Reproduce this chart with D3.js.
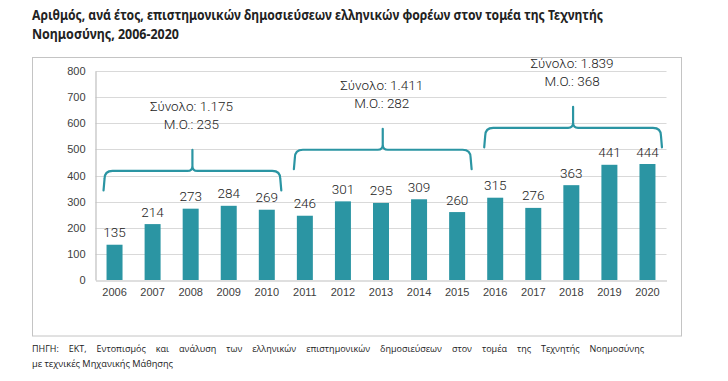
<!DOCTYPE html>
<html>
<head>
<meta charset="utf-8">
<script src="https://cdn.jsdelivr.net/npm/d3@7"></script>
<style>
  body { margin: 0; background: #fff; }
  svg { display: block; }
  .chartfont { font-family: "Roboto", sans-serif; }
</style>
</head>
<body>
<div id="chart"></div>
<script>
// datos
const years = ["2006","2007","2008","2009","2010","2011","2012","2013","2014","2015","2016","2017","2018","2019","2020"];
const values = [135, 214, 273, 284, 269, 246, 301, 295, 309, 260, 315, 276, 363, 441, 444];
const yTicks = [0, 100, 200, 300, 400, 500, 600, 700, 800];

// grupos de 5 años (llaves)
const groupFirst = ["2006", "2011", "2016"];
const groupLast = ["2010", "2015", "2020"];
const groupTotals = ["Σύνολο: 1.175", "Σύνολο: 1.411", "Σύνολο: 1.839"];
const groupMeans = ["Μ.Ο.: 235", "Μ.Ο.: 282", "Μ.Ο.: 368"];
const braceBase = [343, 424, 508]; // nivel de las puntas, en unidades del eje

const titleLines = [
    "Αριθμός, ανά έτος, επιστημονικών δημοσιεύσεων ελληνικών φορέων στον τομέα της Τεχνητής",
    "Νοημοσύνης, 2006-2020"
];
const sourceLines = [
    "ΠΗΓΗ: ΕΚΤ, Εντοπισμός και ανάλυση των ελληνικών επιστημονικών δημοσιεύσεων στον τομέα της Τεχνητής Νοημοσύνης",
    "με τεχνικές Μηχανικής Μάθησης"
];

const width = 728, height = 381;
const teal = "#2b95a3";

let svg = d3.select("#chart").append("svg")
    .attr("width", width)
    .attr("height", height);

// titulo
let title = svg.append("g")
    .style("font-family", "'Noto Sans', sans-serif")
    .style("font-weight", "bold")
    .style("font-size", "13.5px")
    .attr("fill", "#222");
title.append("text").attr("x", 32).attr("y", 20)
    .attr("textLength", 571).attr("lengthAdjust", "spacingAndGlyphs")
    .text(titleLines[0]);
title.append("text").attr("x", 32).attr("y", 38.5)
    .attr("textLength", 147).attr("lengthAdjust", "spacingAndGlyphs")
    .text(titleLines[1]);

// marco
svg.append("rect")
    .attr("x", 32.5).attr("y", 57.5)
    .attr("width", 649).attr("height", 278.5)
    .attr("fill", "none")
    .attr("stroke", "#c4c4c4");

// escalas
let x = d3.scaleBand()
    .domain(years)
    .range([95.5, 666.5])
    .paddingInner(0.58)
    .paddingOuter(0.29);

let y = d3.scaleLinear()
    .domain([0, 800])
    .range([280, 71]);

let chart = svg.append("g").attr("class", "chartfont");

// rejilla
chart.append("g")
    .selectAll("line")
    .data(yTicks.filter(d => d > 0))
    .join("line")
    .attr("x1", 95.5).attr("x2", 666.5)
    .attr("y1", d => Math.round(y(d)) + 0.5)
    .attr("y2", d => Math.round(y(d)) + 0.5)
    .attr("stroke", "#d9d9d9")
    .attr("stroke-width", 1.2);

// eje y
let yAxis = chart.append("g")
    .attr("transform", "translate(95.5,0)")
    .call(d3.axisLeft(y).tickValues(yTicks).tickSize(0).tickPadding(10).tickFormat(d3.format("d")));
yAxis.select(".domain").attr("stroke", "#bfbfbf").attr("stroke-width", 1.2);
yAxis.selectAll("text")
    .style("font-family", "inherit")
    .style("font-size", "11px")
    .attr("fill", "#404040");

// barras
chart.append("g")
    .selectAll("rect")
    .data(values)
    .join("rect")
    .attr("x", (d, i) => x(years[i]))
    .attr("y", d => y(d))
    .attr("width", x.bandwidth())
    .attr("height", d => y(0) - y(d))
    .attr("fill", teal);

// eje x
let xAxis = chart.append("g")
    .attr("transform", "translate(0,280.5)")
    .call(d3.axisBottom(x).tickSize(0).tickPadding(8));
xAxis.select(".domain").attr("stroke", "#bfbfbf").attr("stroke-width", 1.2);
xAxis.selectAll("text")
    .style("font-family", "inherit")
    .style("font-size", "11px")
    .attr("fill", "#404040");

// etiquetas de valor
chart.append("g")
    .selectAll("text")
    .data(values)
    .join("text")
    .attr("x", (d, i) => x(years[i]) + x.bandwidth() / 2)
    .attr("y", d => y(d) - 7.5)
    .attr("text-anchor", "middle")
    .style("font-size", "13.5px")
    .style("font-weight", 300)
    .attr("fill", "#222")
    .text(d => d);

// llaves
let braces = chart.append("g");
groupFirst.forEach(function (first, i) {
    let x0 = x(first) - 3;
    let x1 = x(groupLast[i]) + x.bandwidth() + 6.5;
    let xm = (x0 + x1) / 2;
    let yTip = y(braceBase[i]);
    let yH = yTip - 19.5;
    let yPeak = yH - 21;
    let r = 8, r2 = 5;
    let path = d3.path();
    path.moveTo(x0, yTip);
    path.lineTo(x0 + 1, yH + r);
    path.quadraticCurveTo(x0 + 1, yH, x0 + 1 + r, yH);
    path.lineTo(xm - r2, yH);
    path.quadraticCurveTo(xm, yH, xm, yH - r2);
    path.lineTo(xm, yPeak);
    path.moveTo(xm, yH - r2);
    path.quadraticCurveTo(xm, yH, xm + r2, yH);
    path.lineTo(x1 - 1 - r, yH);
    path.quadraticCurveTo(x1 - 1, yH, x1 - 1, yH + r);
    path.lineTo(x1, yTip);
    braces.append("path")
        .attr("d", path.toString())
        .attr("fill", "none")
        .attr("stroke", teal)
        .attr("stroke-width", 2.2)
        .attr("stroke-linecap", "round");

    let lbl = braces.append("text")
        .attr("text-anchor", "middle")
        .style("font-size", "13.5px")
        .style("font-weight", 300)
        .attr("fill", "#222");
    lbl.append("tspan").attr("x", xm - 1).attr("y", yPeak - 20.5 - 18.5).text(groupTotals[i]);
    lbl.append("tspan").attr("x", xm - 1).attr("y", yPeak - 20.5).text(groupMeans[i]);
});

// fuente
let src = svg.append("g")
    .style("font-family", "'Open Sans', sans-serif")
    .style("font-size", "9px")
    .attr("fill", "#222");
let s1 = src.append("text").attr("x", 32).attr("y", 351.5).text(sourceLines[0]);
let nWords = sourceLines[0].split(" ").length - 1;
let natural = s1.node().getComputedTextLength();
s1.attr("word-spacing", ((644 - 32 - natural) / nWords) + "px");
src.append("text").attr("x", 32).attr("y", 366.5)
    .attr("textLength", 141).attr("lengthAdjust", "spacingAndGlyphs")
    .text(sourceLines[1]);
</script>
</body>
</html>
